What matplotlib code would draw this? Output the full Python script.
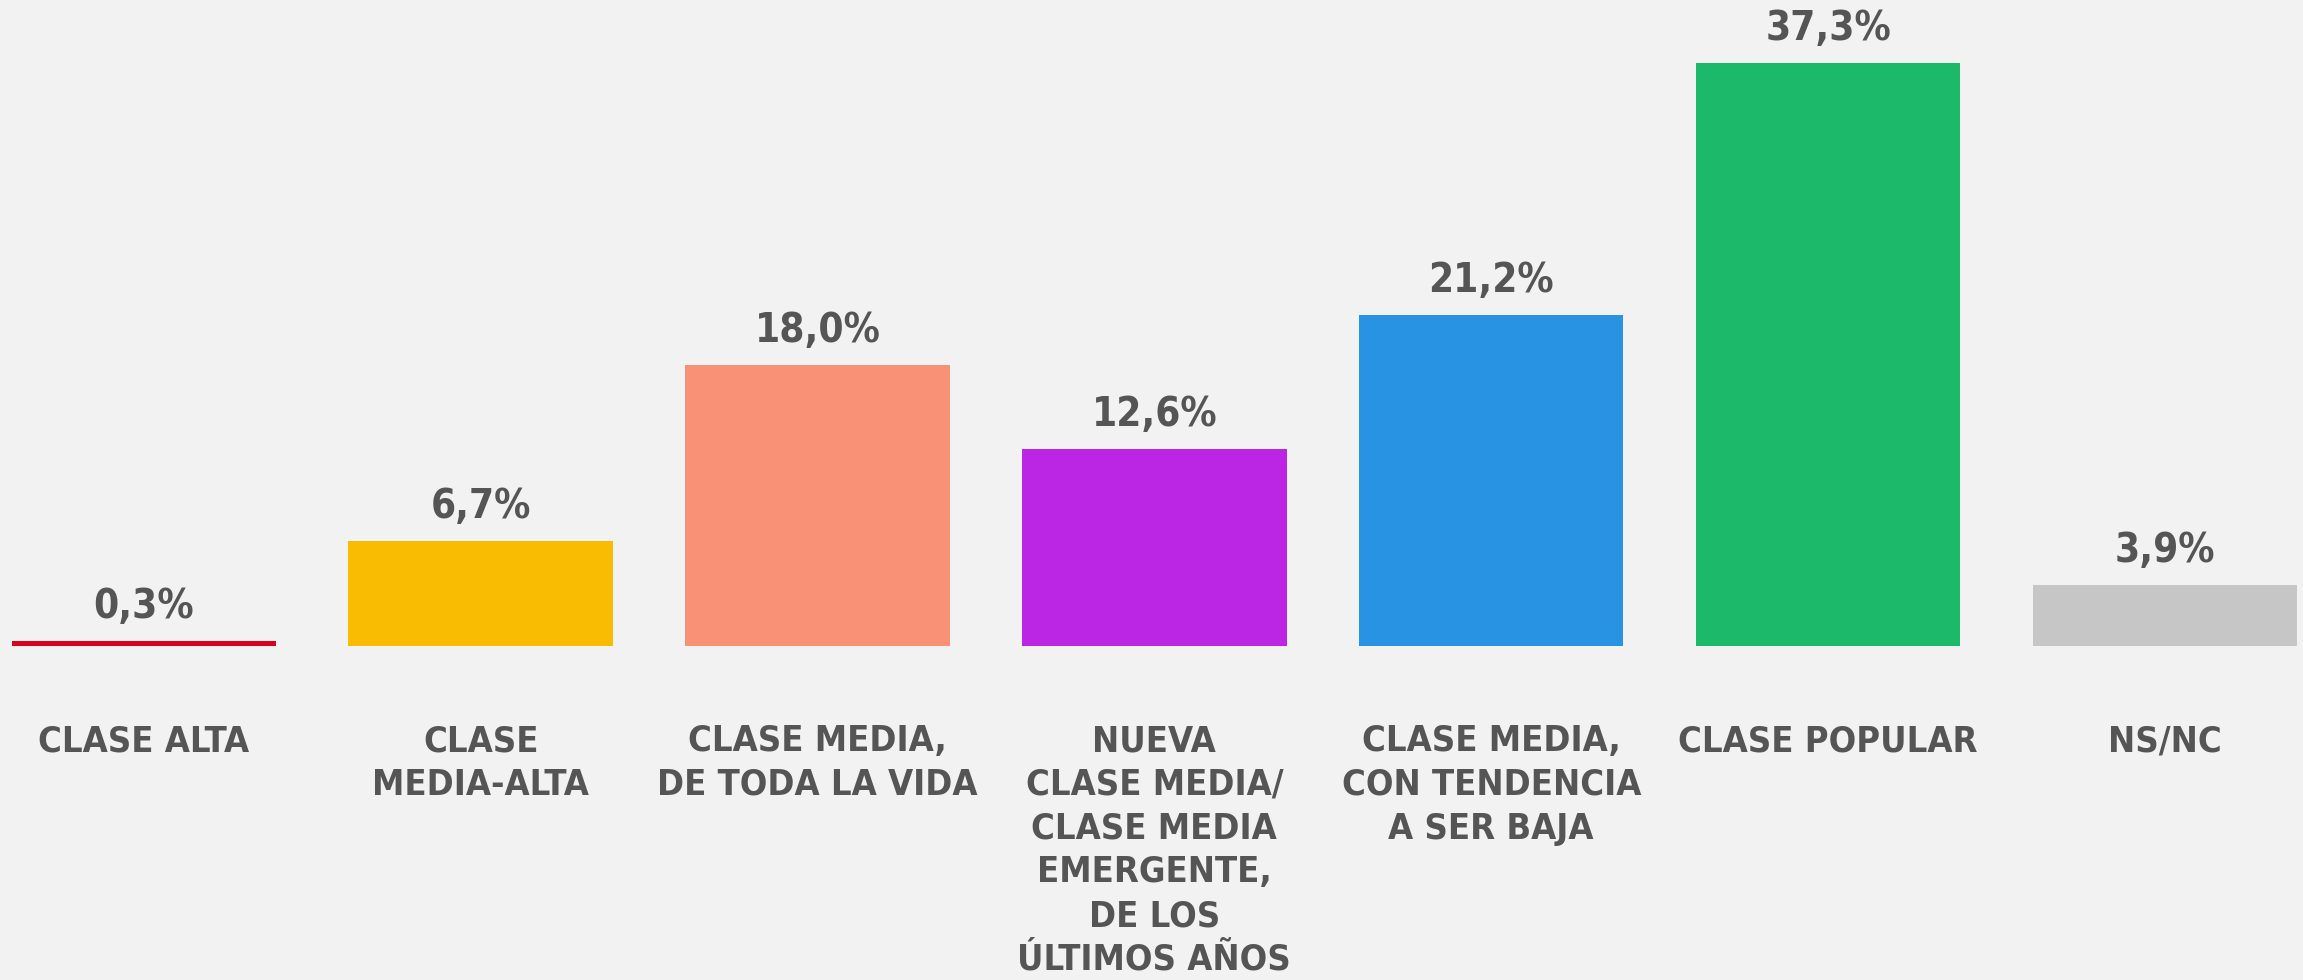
import matplotlib
matplotlib.use("Agg")
import matplotlib.pyplot as plt

categories = [
    "CLASE ALTA",
    "CLASE\nMEDIA-ALTA",
    "CLASE MEDIA,\nDE TODA LA VIDA",
    "NUEVA\nCLASE MEDIA/\nCLASE MEDIA\nEMERGENTE,\nDE LOS\nÚLTIMOS AÑOS",
    "CLASE MEDIA,\nCON TENDENCIA\nA SER BAJA",
    "CLASE POPULAR",
    "NS/NC",
]
values = [0.3, 6.7, 18.0, 12.6, 21.2, 37.3, 3.9]
value_labels = ["0,3%", "6,7%", "18,0%", "12,6%", "21,2%", "37,3%", "3,9%"]
colors = ["#DA0019", "#F9BC02", "#F89175", "#BB26E5", "#2892E3", "#1CB96B", "#C6C6C6"]

bg = "#F2F2F2"
text_color = "#555555"
plt.rcParams["font.family"] = ["DejaVu Sans"]

fig = plt.figure(figsize=(23.03, 9.8), dpi=100, facecolor=bg)
ax = fig.add_axes([0, 0, 1, 1])
ax.set_facecolor(bg)

x = list(range(len(values)))
ax.bar(x, values, width=0.785, color=colors)

# percentages above each bar
for xi, v, lab in zip(x, values, value_labels):
    ax.annotate(lab, (xi, v), xytext=(0, 16.5), textcoords="offset points",
                ha="center", va="baseline", fontsize=29, fontweight="bold",
                fontstretch="condensed", color=text_color)

# category names under the baseline
for xi, cat in zip(x, categories):
    ax.text(xi, -5.0, cat, ha="center", va="top", fontsize=26,
            fontweight="bold", fontstretch="condensed", color=text_color,
            linespacing=1.36)

ax.set_xlim(-0.427, 6.41)
ax.set_ylim(-21.37, 41.33)
ax.axis("off")

fig.savefig("out.png", dpi=100, facecolor=bg)
